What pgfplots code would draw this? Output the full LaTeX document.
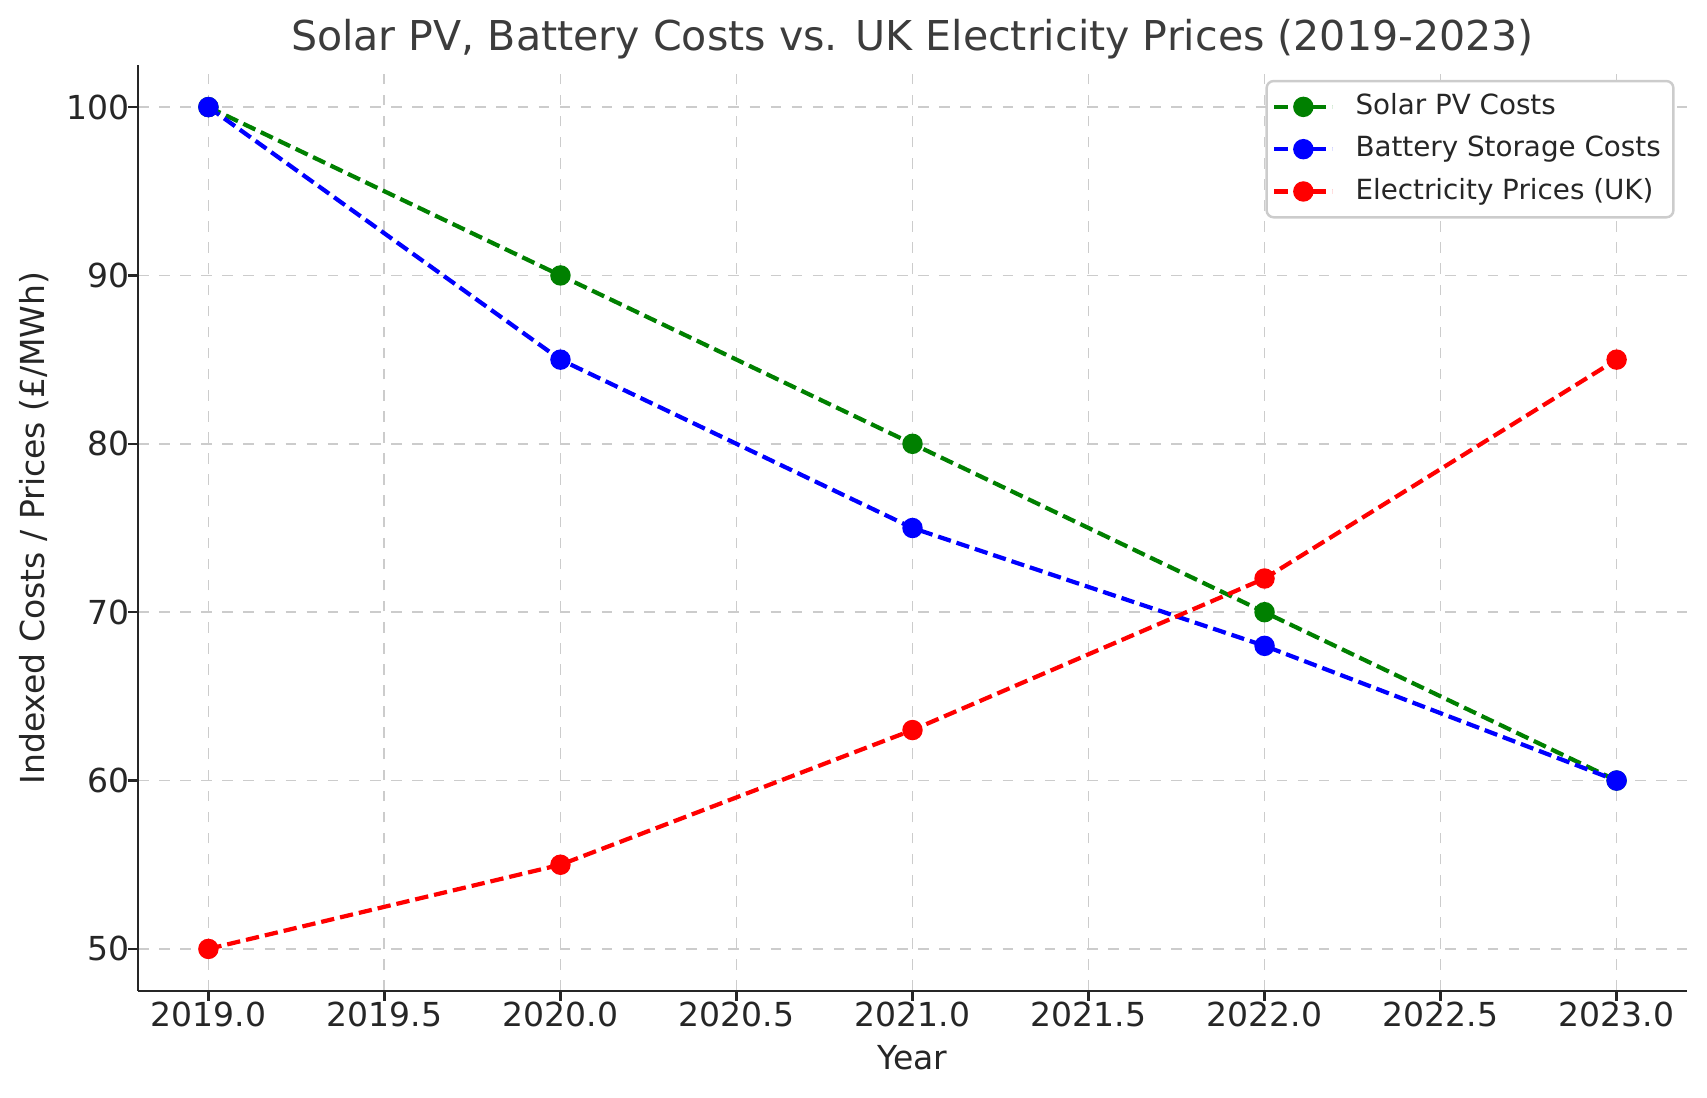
\documentclass[border=0pt]{standalone}
\usepackage{pgfplots}
\pgfplotsset{compat=1.18}
\usepackage{fontspec}
\setmainfont{DejaVu Sans}
\definecolor{mgreen}{RGB}{0,128,0}
\definecolor{mblue}{RGB}{0,0,255}
\definecolor{mred}{RGB}{255,0,0}
\definecolor{txt}{RGB}{38,38,38}
\definecolor{gridc}{RGB}{204,204,204}
\begin{document}
\begin{tikzpicture}
\begin{axis}[
  scale only axis,
  width=15.49cm, height=9.26cm,
  xmin=2018.8, xmax=2023.2,
  ymin=47.5, ymax=102.5,
  axis lines*=left,
  axis line style={line width=0.75pt, color=txt},
  xtick={2019,2019.5,...,2023},
  ytick={50,60,...,100},
  tick align=outside,
  major tick length=2.8pt,
  tick style={line width=0.7pt, color=txt},
  /pgf/number format/assume math mode=true,
  xticklabel={\pgfmathprintnumber[fixed,fixed zerofill,precision=1,1000 sep={}]{\tick}},
  yticklabel={\pgfmathprintnumber[fixed,precision=0]{\tick}},
  ticklabel style={font=\fontsize{9.4pt}{11pt}\selectfont, color=txt},
  xticklabel style={yshift=0.11cm},
  yticklabel style={xshift=0.14cm},
  grid=major,
  grid style={dashed, gridc, line width=0.5pt},
  title={Solar PV, Battery Costs vs. UK Electricity Prices (2019-2023)},
  every axis title/.style={at={(axis description cs:0.5,1)}, anchor=base, yshift=0.14cm, font=\fontsize{11.7pt}{14pt}\selectfont, color=txt!90},
  xlabel={Year},
  ylabel={Indexed Costs / Prices (£/MWh)},
  every axis x label/.style={at={(axis description cs:0.5,0)}, anchor=base, yshift=-0.78cm, font=\fontsize{9.4pt}{11pt}\selectfont, color=txt},
  every axis y label/.style={at={(axis description cs:0,0.5)}, xshift=-0.93cm, rotate=90, anchor=base, font=\fontsize{9.4pt}{11pt}\selectfont, color=txt},
  legend style={at={(0.992,0.984)}, anchor=north east, draw=gridc, line width=0.7pt, rounded corners=2pt,
    font=\fontsize{7.9pt}{9.5pt}\selectfont, text=txt, inner sep=1.6pt, row sep=0.6pt},
  legend cell align=left,
  every axis plot/.append style={line width=1.2pt, dash pattern=on 3.8pt off 1.7pt},
  legend image code/.code={
    \draw[#1] (0cm,0cm) -- (0.58cm,0cm);
    \draw[#1, solid] plot coordinates {(0.29cm,0cm)};
    \path (0.72cm,0cm);
  },
]
\addplot[mgreen, mark=*, mark size=2.3pt, mark options={solid}] coordinates {(2019,100) (2020,90) (2021,80) (2022,70) (2023,60)};
\addlegendentry{Solar PV Costs}
\addplot[mblue, mark=*, mark size=2.3pt, mark options={solid}] coordinates {(2019,100) (2020,85) (2021,75) (2022,68) (2023,60)};
\addlegendentry{Battery Storage Costs}
\addplot[mred, mark=*, mark size=2.3pt, mark options={solid}] coordinates {(2019,50) (2020,55) (2021,63) (2022,72) (2023,85)};
\addlegendentry{Electricity Prices (UK)}
\coordinate (bl) at (rel axis cs:0,0);
\coordinate (tr) at (rel axis cs:1,1);
\end{axis}
\pgfresetboundingbox
\path ([shift={(-1.38cm,-1.06cm)}]bl) rectangle ([shift={(0.2cm,0.65cm)}]tr);
\end{tikzpicture}
\end{document}
